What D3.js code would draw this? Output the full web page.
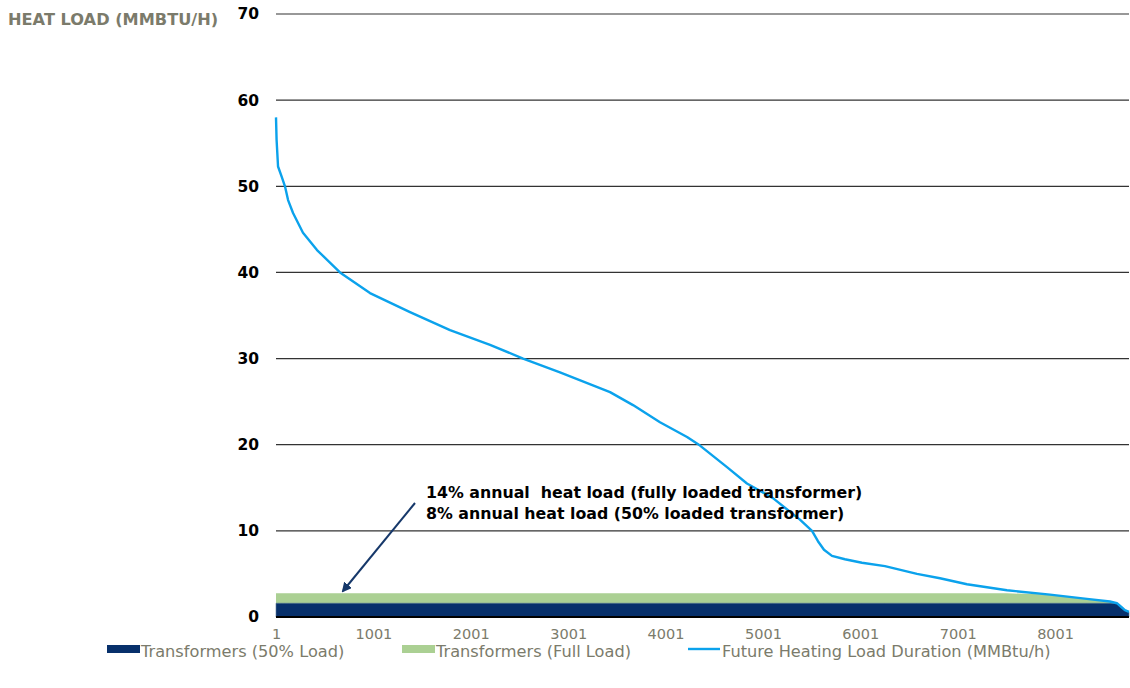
<!DOCTYPE html>
<html>
<head>
<meta charset="utf-8">
<script src="https://cdn.jsdelivr.net/npm/d3@7"></script>
<style>
  html, body { margin: 0; padding: 0; background: #ffffff; }
  svg { display: block; font-family: "DejaVu Sans", Verdana, sans-serif; }
</style>
</head>
<body>
<svg id="chart" width="1130" height="688"></svg>
<script>
// Load duration curve: hour of the year (sorted) and heat load in MMBtu/h
const loadHours = [1, 7, 22, 60, 93, 125, 176, 278, 422, 658, 966, 1377, 1788, 2199, 2538, 2917,
  3431, 3667, 3944, 4222, 4355, 4632, 4837, 5104, 5381, 5505, 5566, 5628, 5710, 5843,
  6018, 6254, 6583, 6819, 7096, 7507, 7949, 8328, 8564, 8636, 8687, 8718, 8760];
const loadValues = [58.0, 55.4, 52.3, 51.1, 50.0, 48.4, 46.9, 44.6, 42.6, 40.0, 37.6, 35.4, 33.3, 31.6, 30.0, 28.4,
  26.1, 24.6, 22.6, 20.9, 19.9, 17.4, 15.5, 13.8, 11.3, 10.0, 8.8, 7.8, 7.1, 6.7,
  6.3, 5.9, 5.0, 4.5, 3.8, 3.1, 2.6, 2.1, 1.8, 1.6, 1.1, 0.8, 0.6];

// Transformer heat supply capacity (MMBtu/h)
const capacityFull = 2.75;
const capacityHalf = 1.6;

const yTicks = [0, 10, 20, 30, 40, 50, 60, 70];
const xTicks = [1, 1001, 2001, 3001, 4001, 5001, 6001, 7001, 8001];

const legendLabels = ["Transformers (50% Load)", "Transformers (Full Load)", "Future Heating Load Duration (MMBtu/h)"];
const noteLines = ["14% annual  heat load (fully loaded transformer)", "8% annual heat load (50% loaded transformer)"];

const colNavy = "#07306b";
const colGreen = "#abd093";
const colBlue = "#0ba2ec";
const colGray = "#7b7b6b";

const svg = d3.select("#chart");

const x = d3.scaleLinear().domain([1, 8760]).range([276, 1129]);
const y = d3.scaleLinear().domain([0, 70]).range([617, 14]);

const pts = loadHours.map((h, i) => ({ h, v: loadValues[i] }));

// Horizontal gridlines
svg.append("g")
  .selectAll("line")
  .data(yTicks.filter(d => d > 0))
  .join("line")
  .attr("x1", x(1)).attr("x2", x(8760))
  .attr("y1", d => y(d)).attr("y2", d => y(d))
  .attr("stroke", "#333333").attr("stroke-width", 1.2);

// Y axis labels
const yAxis = d3.axisLeft(y).tickValues(yTicks).tickSize(0).tickPadding(17);
const gy = svg.append("g").attr("transform", `translate(${x(1)},0)`).call(yAxis);
gy.select(".domain").remove();
gy.selectAll("text")
  .attr("font-family", "DejaVu Sans, Verdana, sans-serif")
  .attr("font-size", 15.5).attr("font-weight", "bold").attr("fill", "#000");

// Axis title
svg.append("text")
  .attr("x", 8).attr("y", 25)
  .attr("font-size", 16.2).attr("font-weight", "bold").attr("fill", colGray)
  .text("HEAT LOAD (MMBTU/H)");

// Transformer supply areas, clipped to the load curve
const areaFull = d3.area().x(d => x(d.h)).y0(y(0)).y1(d => y(Math.min(d.v, capacityFull)));
const areaHalf = d3.area().x(d => x(d.h)).y0(y(0)).y1(d => y(Math.min(d.v, capacityHalf)));
svg.append("path").datum(pts).attr("d", areaFull).attr("fill", colGreen);
svg.append("path").datum(pts).attr("d", areaHalf).attr("fill", colNavy)
  .attr("stroke", "#5a7a9a").attr("stroke-width", 0.6);

// Zero baseline
svg.append("line")
  .attr("x1", x(1)).attr("x2", x(8760))
  .attr("y1", y(0)).attr("y2", y(0))
  .attr("stroke", "#000").attr("stroke-width", 2);

// Load duration curve
const line = d3.line().x(d => x(d.h)).y(d => y(d.v));
svg.append("path").datum(pts).attr("d", line)
  .attr("fill", "none").attr("stroke", colBlue).attr("stroke-width", 2.4)
  .attr("stroke-linejoin", "round");

// X axis labels
const xAxis = d3.axisBottom(x).tickValues(xTicks).tickFormat(d3.format("d")).tickSize(0).tickPadding(12);
const gx = svg.append("g").attr("transform", `translate(0,${y(0)})`).call(xAxis);
gx.select(".domain").remove();
gx.selectAll("text")
  .attr("font-family", "DejaVu Sans, Verdana, sans-serif")
  .attr("font-size", 14.5).attr("fill", colGray);

// Annotation with arrow
const defs = svg.append("defs");
defs.append("marker")
  .attr("id", "arrowhead").attr("viewBox", "0 0 10 10")
  .attr("refX", 8).attr("refY", 5)
  .attr("markerWidth", 5).attr("markerHeight", 5)
  .attr("orient", "auto")
  .append("path").attr("d", "M0,0 L10,5 L0,10 z").attr("fill", "#16386a");

svg.append("line")
  .attr("x1", 415).attr("y1", 503)
  .attr("x2", 343).attr("y2", 591)
  .attr("stroke", "#16386a").attr("stroke-width", 2)
  .attr("marker-end", "url(#arrowhead)");

svg.append("g").selectAll("text")
  .data(noteLines)
  .join("text")
  .attr("x", 426).attr("y", (d, i) => 498 + i * 21)
  .attr("font-size", 15.8).attr("font-weight", "bold").attr("fill", "#000")
  .style("white-space", "pre")
  .text(d => d);

// Legend
const legend = svg.append("g").attr("font-size", 16.2).attr("fill", colGray);
const legX = [107, 402, 688];
legend.append("rect").attr("x", legX[0]).attr("y", 645).attr("width", 33).attr("height", 8).attr("fill", colNavy);
legend.append("rect").attr("x", legX[1]).attr("y", 645).attr("width", 33).attr("height", 8).attr("fill", colGreen);
legend.append("line").attr("x1", legX[2]).attr("x2", legX[2] + 32).attr("y1", 649).attr("y2", 649)
  .attr("stroke", colBlue).attr("stroke-width", 2.4);
legend.selectAll("text")
  .data(legendLabels)
  .join("text")
  .attr("x", (d, i) => legX[i] + 34)
  .attr("y", 657)
  .attr("fill", colGray)
  .text(d => d);
</script>
</body>
</html>
